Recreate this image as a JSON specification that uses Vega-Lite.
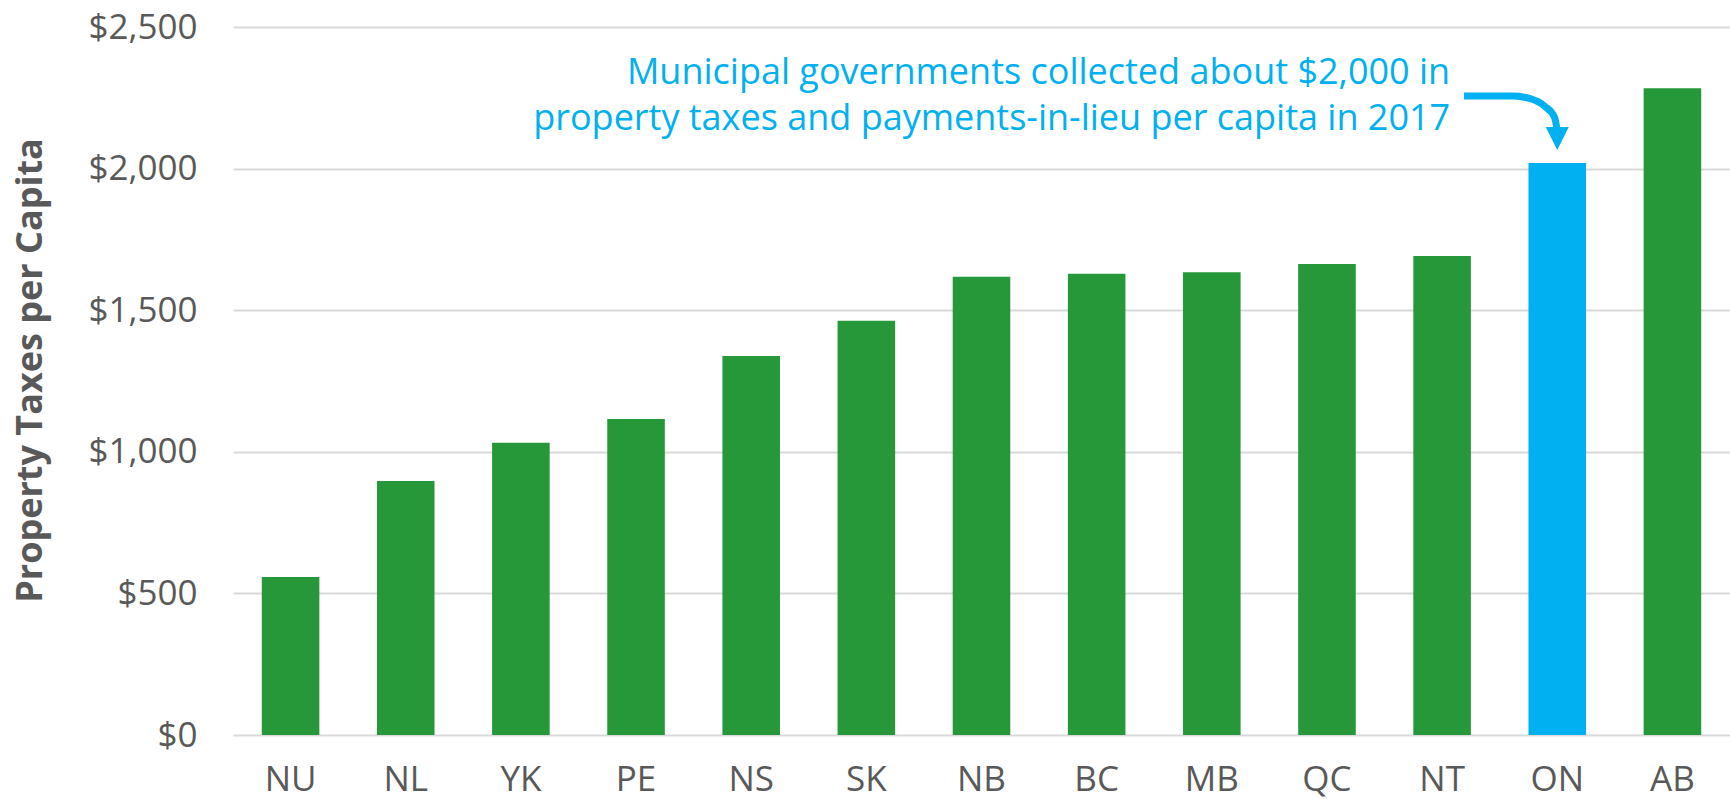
{
  "$schema": "https://vega.github.io/schema/vega-lite/v6.json",
  "width": 1497,
  "height": 708,
  "autosize": {"type": "none"},
  "padding": {"left": 233, "top": 27, "right": 0, "bottom": 64},
  "background": "white",
  "config": {
    "view": {"stroke": null},
    "font": "Open Sans",
    "axis": {"labelFont": "Open Sans", "titleFont": "Open Sans", "labelColor": "#595959", "titleColor": "#595959"}
  },
  "datasets": {
    "bars": [
      {"prov": "NU", "value": 558},
      {"prov": "NL", "value": 897},
      {"prov": "YK", "value": 1032},
      {"prov": "PE", "value": 1116},
      {"prov": "NS", "value": 1338},
      {"prov": "SK", "value": 1463},
      {"prov": "NB", "value": 1618},
      {"prov": "BC", "value": 1629},
      {"prov": "MB", "value": 1634},
      {"prov": "QC", "value": 1663},
      {"prov": "NT", "value": 1691},
      {"prov": "ON", "value": 2020},
      {"prov": "AB", "value": 2284}
    ],
    "arrow": [
      {"order": 1, "pos": 10.69, "value": 2256},
      {"order": 2, "pos": 11.116, "value": 2256},
      {"order": 3, "pos": 11.265, "value": 2247},
      {"order": 4, "pos": 11.392, "value": 2220},
      {"order": 5, "pos": 11.477, "value": 2180},
      {"order": 6, "pos": 11.5, "value": 2133}
    ],
    "head": [{"pos": 11.5, "value": 2106}],
    "note": [
      {"pos": 10.57, "value": 2299, "text": "Municipal governments collected about $2,000 in\nproperty taxes and payments-in-lieu per capita in 2017"}
    ]
  },
  "resolve": {"scale": {"x": "independent"}},
  "layer": [
    {
      "data": {"name": "bars"},
      "mark": {"type": "bar"},
      "encoding": {
        "x": {
          "field": "prov", "type": "nominal", "sort": null,
          "scale": {"paddingInner": 0.5, "paddingOuter": 0.25},
          "axis": {"title": null, "labelFontSize": 35, "labelAngle": 0, "domain": false, "ticks": false, "tickSize": 0, "labelPadding": 27, "grid": false}
        },
        "y": {
          "field": "value", "type": "quantitative",
          "scale": {"domain": [0, 2500], "nice": false},
          "axis": {
            "title": "Property Taxes per Capita", "titleFontSize": 36, "titleFontWeight": "bold", "titlePadding": 38, "titleY": 343,
            "values": [0, 500, 1000, 1500, 2000, 2500], "format": "$,.0f",
            "labelFontSize": 35, "labelPadding": 36, "domain": false, "ticks": false, "tickSize": 0,
            "grid": true, "gridColor": "#d9d9d9", "gridWidth": 2
          }
        },
        "color": {
          "condition": {"test": "datum.prov === 'ON'", "value": "#00B0F0"},
          "value": "#27983A"
        }
      }
    },
    {
      "layer": [
        {
          "data": {"name": "arrow"},
          "mark": {"type": "line", "color": "#00B0F0", "strokeWidth": 7, "strokeCap": "butt", "interpolate": "monotone"},
          "encoding": {
            "x": {"field": "pos", "type": "quantitative", "scale": {"domain": [0, 13], "nice": false, "zero": false}, "axis": null},
            "y": {"field": "value", "type": "quantitative"},
            "order": {"field": "order", "type": "quantitative"}
          }
        },
        {
          "data": {"name": "head"},
          "mark": {"type": "point", "shape": "M-1,-1L1,-1L0,1Z", "size": 529, "filled": true, "color": "#00B0F0", "opacity": 1},
          "encoding": {
            "x": {"field": "pos", "type": "quantitative"},
            "y": {"field": "value", "type": "quantitative"}
          }
        },
        {
          "data": {"name": "note"},
          "mark": {"type": "text", "align": "right", "baseline": "alphabetic", "lineBreak": "\n", "lineHeight": 46, "fontSize": 36, "font": "Open Sans", "color": "#00B0F0"},
          "encoding": {
            "x": {"field": "pos", "type": "quantitative"},
            "y": {"field": "value", "type": "quantitative"},
            "text": {"field": "text"}
          }
        }
      ]
    }
  ]
}
